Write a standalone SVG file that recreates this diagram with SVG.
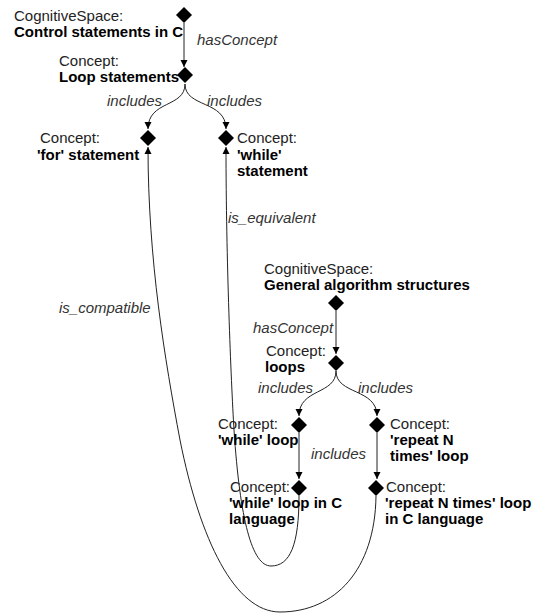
<svg xmlns="http://www.w3.org/2000/svg" width="534" height="613" viewBox="0 0 534 613">
<defs>
<marker id="ah" viewBox="0 0 10 10" refX="10" refY="5" markerWidth="7" markerHeight="8" markerUnits="userSpaceOnUse" orient="auto"><path d="M0,0 L10,5 L0,10 z" fill="#000"/></marker>
<style>
.t{font-family:"Liberation Sans",Arial,sans-serif;font-size:15px;fill:#222}
.b{font-weight:bold;fill:#000}
.l{font-family:"Liberation Sans",Arial,sans-serif;font-size:15px;font-style:italic;fill:#333}
.c{fill:none;stroke:#222;stroke-width:1;marker-end:url(#ah)}
.d{fill:#000}
</style>
</defs>
<rect width="534" height="613" fill="#fff"/>
<g id="connectors">
<path class="c" d="M184,23 L184,67"/>
<path class="c" d="M185,84 C185,108 148,100 148,129"/>
<path class="c" d="M185,84 C185,108 226,100 226,129"/>
<path class="c" d="M336,311 L336,354"/>
<path class="c" d="M336,371 C336,395 299,388 299,416"/>
<path class="c" d="M336,371 C336,395 377,388 377,416"/>
<path class="c" d="M299,433 L299,479"/>
<path class="c" d="M377,433 L377,479"/>
<path class="c" d="M299,496 C299,545 290,566 271,566 C252,566 240,520 234,430 C231,380 226,260 226,147"/>
<path class="c" d="M376,496 C375,570 335,612 280,612 C235,612 200,540 180,440 C165,360 148,260 148,147"/>
<text class="l" x="197" y="45">hasConcept</text>
<text class="l" x="107" y="106">includes</text>
<text class="l" x="207" y="106">includes</text>
<text class="l" x="228" y="223">is_equivalent</text>
<text class="l" x="59" y="313">is_compatible</text>
<text class="l" x="253" y="333">hasConcept</text>
<text class="l" x="258" y="393">includes</text>
<text class="l" x="358" y="393">includes</text>
<text class="l" x="311" y="459">includes</text>
</g>
<g id="n1">
<polygon class="d" points="184,7 192,15 184,23 176,15"/>
<text class="t" x="14" y="21">CognitiveSpace:</text>
<text class="t b" x="14" y="37">Control statements in C</text>
</g>
<g id="n2">
<polygon class="d" points="185,67 193,75 185,83 177,75"/>
<text class="t" x="59" y="66">Concept:</text>
<text class="t b" x="59" y="82">Loop statements</text>
</g>
<g id="n3">
<polygon class="d" points="148,130 156,138 148,146 140,138"/>
<text class="t" x="40" y="143">Concept:</text>
<text class="t b" x="37" y="160">'for' statement</text>
</g>
<g id="n4">
<polygon class="d" points="226,130 234,138 226,146 218,138"/>
<text class="t" x="237" y="143">Concept:</text>
<text class="t b" x="237" y="160">'while'</text>
<text class="t b" x="237" y="176">statement</text>
</g>
<g id="n5">
<polygon class="d" points="336,295 344,303 336,311 328,303"/>
<text class="t" x="264" y="274">CognitiveSpace:</text>
<text class="t b" x="264" y="290">General algorithm structures</text>
</g>
<g id="n6">
<polygon class="d" points="336,355 344,363 336,371 328,363"/>
<text class="t" x="266" y="356">Concept:</text>
<text class="t b" x="265" y="372">loops</text>
</g>
<g id="n7">
<polygon class="d" points="299,417 307,425 299,433 291,425"/>
<text class="t" x="218" y="429">Concept:</text>
<text class="t b" x="218" y="445">'while' loop</text>
</g>
<g id="n8">
<polygon class="d" points="377,417 385,425 377,433 369,425"/>
<text class="t" x="390" y="429">Concept:</text>
<text class="t b" x="390" y="445">'repeat N</text>
<text class="t b" x="390" y="461">times' loop</text>
</g>
<g id="n9">
<polygon class="d" points="299,480 307,488 299,496 291,488"/>
<text class="t" x="230" y="492">Concept:</text>
<text class="t b" x="229" y="508">'while' loop in C</text>
<text class="t b" x="229" y="524">language</text>
</g>
<g id="n10">
<polygon class="d" points="376,480 384,488 376,496 368,488"/>
<text class="t" x="386" y="492">Concept:</text>
<text class="t b" x="385" y="508">'repeat N times' loop</text>
<text class="t b" x="385" y="524">in C language</text>
</g>
</svg>
